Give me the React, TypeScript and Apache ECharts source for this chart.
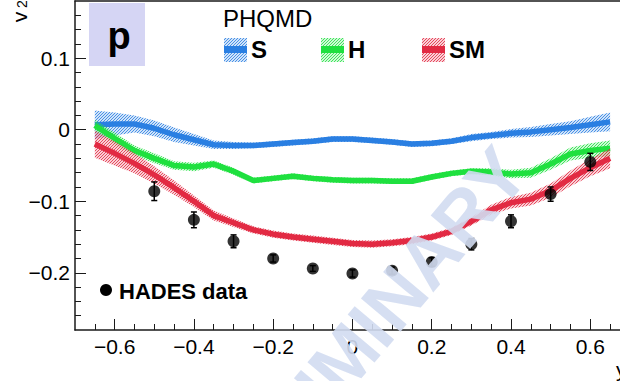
import { useEffect, useRef } from 'react';
import * as echarts from 'echarts';

// Rapidity grid of the PHQMD model curves
const rapidity = [-0.65, -0.6, -0.55, -0.5, -0.45, -0.4, -0.35, -0.3, -0.25, -0.2, -0.15, -0.1, -0.05, 0, 0.05, 0.1, 0.15, 0.2, 0.25, 0.3, 0.35, 0.4, 0.45, 0.5, 0.55, 0.6, 0.65];

// PHQMD soft EoS (S)
const v2S = [0.007, 0.008, 0.008, 0.002, -0.007, -0.014, -0.021, -0.022, -0.022, -0.02, -0.018, -0.016, -0.013, -0.013, -0.015, -0.017, -0.02, -0.019, -0.016, -0.011, -0.008, -0.005, -0.003, 0.0, 0.003, 0.007, 0.011];
const v2SErr = [0.02, 0.016, 0.012, 0.011, 0.01, 0.008, 0.006, 0.005, 0.004, 0.004, 0.004, 0.004, 0.004, 0.004, 0.004, 0.004, 0.004, 0.004, 0.004, 0.005, 0.005, 0.006, 0.007, 0.008, 0.009, 0.011, 0.013];

// PHQMD hard EoS (H)
const v2H = [0.006, -0.012, -0.029, -0.04, -0.05, -0.052, -0.048, -0.058, -0.071, -0.068, -0.065, -0.068, -0.07, -0.071, -0.071, -0.072, -0.072, -0.066, -0.061, -0.058, -0.059, -0.062, -0.06, -0.048, -0.034, -0.029, -0.026];
const v2HErr = [0.008, 0.008, 0.007, 0.007, 0.006, 0.006, 0.005, 0.005, 0.004, 0.004, 0.004, 0.004, 0.004, 0.004, 0.004, 0.004, 0.004, 0.004, 0.004, 0.004, 0.005, 0.006, 0.007, 0.008, 0.009, 0.01, 0.011];

// PHQMD soft momentum-dependent EoS (SM)
const v2SM = [-0.02, -0.033, -0.047, -0.063, -0.081, -0.1, -0.12, -0.13, -0.14, -0.146, -0.15, -0.153, -0.156, -0.159, -0.16, -0.158, -0.155, -0.15, -0.142, -0.128, -0.112, -0.102, -0.097, -0.085, -0.068, -0.053, -0.04];
const v2SMErr = [0.019, 0.017, 0.014, 0.012, 0.01, 0.008, 0.007, 0.006, 0.005, 0.005, 0.005, 0.005, 0.005, 0.005, 0.005, 0.005, 0.005, 0.005, 0.005, 0.006, 0.007, 0.008, 0.009, 0.01, 0.011, 0.012, 0.014];

// HADES measurement
const hadesY = [-0.5, -0.4, -0.3, -0.2, -0.1, 0, 0.1, 0.2, 0.3, 0.4, 0.5, 0.6];
const hadesV2 = [-0.086, -0.126, -0.156, -0.18, -0.194, -0.201, -0.197, -0.185, -0.16, -0.128, -0.09, -0.045];
const hadesErr = [0.013, 0.011, 0.009, 0.005, 0.004, 0.005, 0.005, 0.006, 0.008, 0.009, 0.01, 0.012];

// Axis ticks
const xMajorTicks = [-0.6, -0.4, -0.2, 0, 0.2, 0.4, 0.6];
const xMinorTicks = [-0.65, -0.55, -0.5, -0.45, -0.35, -0.3, -0.25, -0.15, -0.1, -0.05, 0.05, 0.1, 0.15, 0.25, 0.3, 0.35, 0.45, 0.5, 0.55, 0.65];
const yMajorTicks = [-0.2, -0.1, 0, 0.1];
const yMinorTicks = [-0.26, -0.24, -0.22, -0.18, -0.16, -0.14, -0.12, -0.08, -0.06, -0.04, -0.02, 0.02, 0.04, 0.06, 0.08, 0.12, 0.14, 0.16];

const FONT = 'Liberation Sans, Arial, Helvetica, sans-serif';
const BLUE = '#2a7fe2';
const GREEN = '#1fe03f';
const RED = '#e22a43';

function rgba(hex: string, a: number) {
  const n = parseInt(hex.slice(1), 16);
  return `rgba(${(n >> 16) & 255},${(n >> 8) & 255},${n & 255},${a})`;
}

// Diagonal hatch fill: faint tint with one pixel wide lines on a 3px tile
function hatch(color: string) {
  const c = document.createElement('canvas');
  c.width = 3;
  c.height = 3;
  const g = c.getContext('2d')!;
  g.fillStyle = rgba(color, 0.22);
  g.fillRect(0, 0, 3, 3);
  g.clearRect(0, 0, 0, 0);
  for (let i = 0; i < 3; i++) {
    g.clearRect(i, 2 - i, 1, 1);
    g.fillStyle = rgba(color, 0.85);
    g.fillRect(i, 2 - i, 1, 1);
  }
  return { image: c.toDataURL(), repeat: 'repeat', imageWidth: 3, imageHeight: 3 };
}

function fmt(v: number) {
  if (Math.abs(v) < 1e-9) return '0';
  return String(+v.toFixed(1)).replace('-', '\u2212');
}

function band(center: number[], err: number[], color: string, z: number) {
  const fill = hatch(color);
  return {
    type: 'custom',
    coordinateSystem: 'cartesian2d',
    silent: true,
    z,
    data: rapidity.map((x, i) => [x, center[i] - err[i], center[i] + err[i]]),
    encode: { x: 0, y: [1, 2] },
    renderItem: (params: any, api: any) => {
      if (params.dataIndex !== 0) return null;
      const upper = rapidity.map((x, i) => api.coord([x, center[i] + err[i]]));
      const lower = rapidity.map((x, i) => api.coord([x, center[i] - err[i]])).reverse();
      return { type: 'polygon', shape: { points: upper.concat(lower) }, style: { fill } };
    },
  };
}

function curve(center: number[], color: string, z: number) {
  return {
    type: 'line',
    z,
    silent: true,
    symbol: 'none',
    data: rapidity.map((x, i) => [x, center[i]]),
    lineStyle: { width: 5.5, color },
  };
}

export default function App() {
  const ref = useRef<HTMLDivElement>(null);

  useEffect(() => {
    document.body.style.margin = '0';
    const chart = echarts.init(ref.current!, null, { renderer: 'svg' });

    const axisLine = { show: true, onZero: false, lineStyle: { color: '#1a1a1a', width: 1.5 } };
    const noLine = { show: false, onZero: false };
    const tickStyle = { color: '#1a1a1a', width: 1 };

    const legendSwatch = (x: number, color: string) => [
      { type: 'rect', shape: { x, y: 38, width: 23, height: 24 }, style: { fill: hatch(color) } },
      { type: 'rect', shape: { x, y: 46, width: 23, height: 7 }, style: { fill: color } },
    ];

    chart.setOption({
      animation: false,
      textStyle: { fontFamily: FONT },
      grid: { left: 75, right: 0, top: 1, bottom: 51, containLabel: false, outerBoundsMode: 'none' },
      xAxis: [
        {
          type: 'value', min: -0.7, max: 0.675, position: 'bottom',
          axisLine,
          splitLine: { show: false },
          axisTick: { inside: true, length: 11, customValues: xMajorTicks, lineStyle: tickStyle },
          axisLabel: { customValues: xMajorTicks, formatter: fmt, fontSize: 21, color: '#000', margin: 6, fontFamily: FONT },
        },
        {
          type: 'value', min: -0.7, max: 0.675, position: 'bottom',
          axisLine: noLine,
          splitLine: { show: false },
          axisTick: { inside: true, length: 6, customValues: xMinorTicks, lineStyle: tickStyle },
          axisLabel: { show: false },
        },
        {
          type: 'value', min: -0.7, max: 0.675, position: 'top',
          axisLine,
          splitLine: { show: false },
          axisTick: { show: false },
          axisLabel: { show: false },
        },
      ],
      yAxis: [
        {
          type: 'value', min: -0.28, max: 0.18, position: 'left',
          axisLine,
          splitLine: { show: false },
          axisTick: { inside: true, length: 11, customValues: yMajorTicks, lineStyle: tickStyle },
          axisLabel: { customValues: yMajorTicks, formatter: fmt, fontSize: 21, color: '#000', margin: 5, fontFamily: FONT },
        },
        {
          type: 'value', min: -0.28, max: 0.18, position: 'left',
          axisLine: noLine,
          splitLine: { show: false },
          axisTick: { inside: true, length: 6, customValues: yMinorTicks, lineStyle: tickStyle },
          axisLabel: { show: false },
        },
      ],
      series: [
        band(v2S, v2SErr, BLUE, 2),
        curve(v2S, BLUE, 3),
        band(v2H, v2HErr, GREEN, 4),
        curve(v2H, GREEN, 5),
        band(v2SM, v2SMErr, RED, 6),
        curve(v2SM, RED, 7),
        {
          type: 'custom',
          coordinateSystem: 'cartesian2d',
          silent: true,
          z: 8,
          data: hadesY.map((x, i) => [x, hadesV2[i], hadesErr[i]]),
          encode: { x: 0, y: 1 },
          renderItem: (_p: any, api: any) => {
            const x = api.value(0);
            const y = api.value(1);
            const e = api.value(2);
            const top = api.coord([x, y + e]);
            const bot = api.coord([x, y - e]);
            const st = { stroke: '#000', lineWidth: 1.5 };
            return {
              type: 'group',
              children: [
                { type: 'line', shape: { x1: top[0], y1: top[1], x2: bot[0], y2: bot[1] }, style: st },
                { type: 'line', shape: { x1: top[0] - 3, y1: top[1], x2: top[0] + 3, y2: top[1] }, style: st },
                { type: 'line', shape: { x1: bot[0] - 3, y1: bot[1], x2: bot[0] + 3, y2: bot[1] }, style: st },
              ],
            };
          },
        },
        {
          type: 'scatter',
          z: 9,
          silent: true,
          symbol: 'circle',
          symbolSize: 12,
          itemStyle: { color: '#000' },
          data: hadesY.map((x, i) => [x, hadesV2[i]]),
        },
      ],
      graphic: [
        // particle label box
        { type: 'rect', z: 20, shape: { x: 89, y: 3, width: 56, height: 63 }, style: { fill: '#d5d5f4' } },
        { type: 'text', z: 21, x: 119, y: 36, style: { text: 'p', font: `bold 38px ${FONT}`, fill: '#000', align: 'center', verticalAlign: 'middle' } },
        // axis titles
        { type: 'text', z: 21, x: 19, y: 17, rotation: Math.PI / 2, style: { text: 'v', font: `21px ${FONT}`, fill: '#000', align: 'center', verticalAlign: 'middle' } },
        { type: 'text', z: 21, x: 22, y: 4, rotation: Math.PI / 2, style: { text: '2', font: `14px ${FONT}`, fill: '#000', align: 'center', verticalAlign: 'middle' } },
        { type: 'text', z: 21, x: 616, y: 369, style: { text: 'y', font: `21px ${FONT}`, fill: '#000', align: 'left', verticalAlign: 'middle' } },
        // model legend
        { type: 'text', z: 21, x: 223, y: 18, style: { text: 'PHQMD', font: `24px ${FONT}`, fill: '#000', align: 'left', verticalAlign: 'middle' } },
        { type: 'group', z: 21, children: legendSwatch(224, BLUE) },
        { type: 'text', z: 21, x: 251, y: 49, style: { text: 'S', font: `bold 24px ${FONT}`, fill: '#000', align: 'left', verticalAlign: 'middle' } },
        { type: 'group', z: 21, children: legendSwatch(321, GREEN) },
        { type: 'text', z: 21, x: 348, y: 49, style: { text: 'H', font: `bold 24px ${FONT}`, fill: '#000', align: 'left', verticalAlign: 'middle' } },
        { type: 'group', z: 21, children: legendSwatch(422, RED) },
        { type: 'text', z: 21, x: 449, y: 49, style: { text: 'SM', font: `bold 24px ${FONT}`, fill: '#000', align: 'left', verticalAlign: 'middle' } },
        // data legend
        { type: 'circle', z: 21, shape: { cx: 106, cy: 290, r: 6 }, style: { fill: '#000' } },
        { type: 'text', z: 21, x: 119, y: 291, style: { text: 'HADES data', font: `bold 22px ${FONT}`, fill: '#000', align: 'left', verticalAlign: 'middle' } },
        // watermark
        {
          type: 'text', z: 100, x: 347, y: 355, rotation: (50 * Math.PI) / 180,
          style: { text: 'PRELIMINARY', font: `bold 75px ${FONT}`, fill: '#d1dbf1', opacity: 0.9, align: 'center', verticalAlign: 'middle' },
        },
      ],
    });

    return () => chart.dispose();
  }, []);

  return <div ref={ref} style={{ width: 620, height: 381 }} />;
}
